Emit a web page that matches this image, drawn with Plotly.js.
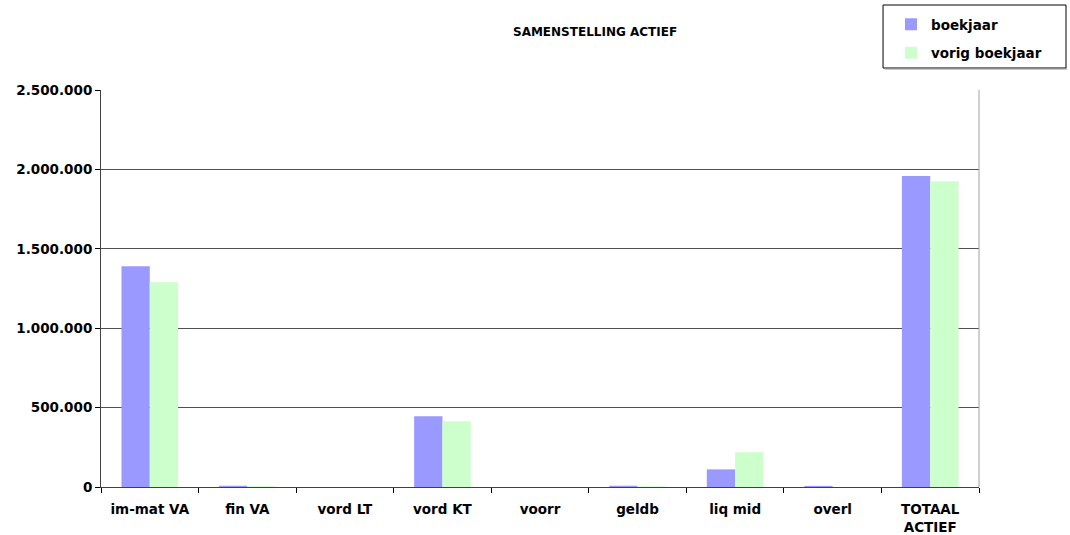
<!DOCTYPE html>
<html>
<head>
<meta charset="utf-8">
<script src="https://cdn.plot.ly/plotly-3.0.1.min.js"></script>
<style>html,body{margin:0;padding:0;background:#fff;}#chart{width:1070px;height:535px;}</style>
</head>
<body>
<div id="chart"></div>
<script>
const categories = ["im-mat VA", "fin VA", "vord LT", "vord KT", "voorr", "geldb", "liq mid", "overl", "TOTAAL<br>ACTIEF"];
const boekjaar = [1390000, 8000, 0, 445000, 0, 8000, 111000, 7000, 1958000];
const vorigBoekjaar = [1290000, 5000, 0, 414000, 0, 4000, 219000, 0, 1926000];
const yTickVals = [0, 500000, 1000000, 1500000, 2000000, 2500000];
const yTickText = ["0", "500.000", "1.000.000", "1.500.000", "2.000.000", "2.500.000"];

const fontFam = "DejaVu Sans, Verdana, sans-serif";

const data = [
  {type: "bar", name: "boekjaar", x: categories, y: boekjaar, marker: {color: "#9999FF"}, legendgroup: "a"},
  {type: "bar", name: "vorig boekjaar", x: categories, y: vorigBoekjaar, marker: {color: "#CCFFCC"}, legendgroup: "b"}
];

const layout = {
  width: 1070, height: 535,
  margin: {l: 101, r: 91, t: 90, b: 48, autoexpand: false},
  paper_bgcolor: "#fff", plot_bgcolor: "#fff",
  font: {family: fontFam, size: 13.5, color: "#000", weight: "bold"},
  barmode: "group",
  bargap: 0.42,
  bargroupgap: 0,
  showlegend: true,
  legend: {
    xref: "container", yref: "container",
    x: 0.8327, y: 0.9832, xanchor: "left", yanchor: "top",
    borderwidth: 0, bgcolor: "rgba(0,0,0,0)",
    font: {family: fontFam, size: 13.5, weight: "bold"},
    tracegroupgap: 8, traceorder: "grouped"
  },
  annotations: [{
    text: "<b>SAMENSTELLING ACTIEF</b>", xref: "paper", yref: "paper",
    x: 0.5626, y: 1.147, xanchor: "center", yanchor: "middle", showarrow: false,
    font: {family: fontFam, size: 12, color: "#000"}
  }],
  xaxis: {
    type: "category",
    tickson: "boundaries", ticks: "outside", ticklen: 5, tickcolor: "#000",
    ticklabelstandoff: 10,
    showline: true, linecolor: "#404040", linewidth: 1, mirror: false,
    showgrid: false,
    tickfont: {family: fontFam, size: 13.5, weight: "bold"},
    fixedrange: true
  },
  yaxis: {
    range: [0, 2500000],
    tickvals: yTickVals, ticktext: yTickText,
    ticks: "outside", ticklen: 5, tickcolor: "#000",
    showline: true, linecolor: "#404040", linewidth: 1,
    showgrid: true, gridcolor: "#505050", gridwidth: 1,
    zeroline: false,
    tickfont: {family: fontFam, size: 13.5, weight: "bold"},
    fixedrange: true
  },
  shapes: [
    {type: "line", xref: "paper", yref: "paper", x0: 1, x1: 1, y0: 0, y1: 1, line: {color: "#a0a0a0", width: 1}},
    {type: "rect", xref: "paper", yref: "paper", x0: 0.8907, x1: 1.0991, y0: 1.0554, y1: 1.2141,
     line: {color: "#000", width: 1}, fillcolor: "#fff", layer: "below"},
    {type: "line", xref: "paper", yref: "paper", x0: 0.8930, x1: 1.1003, y0: 1.0529, y1: 1.0529,
     line: {color: "#909090", width: 1}}
  ]
};

Plotly.newPlot("chart", data, layout, {displayModeBar: false, staticPlot: true});
</script>
</body>
</html>
